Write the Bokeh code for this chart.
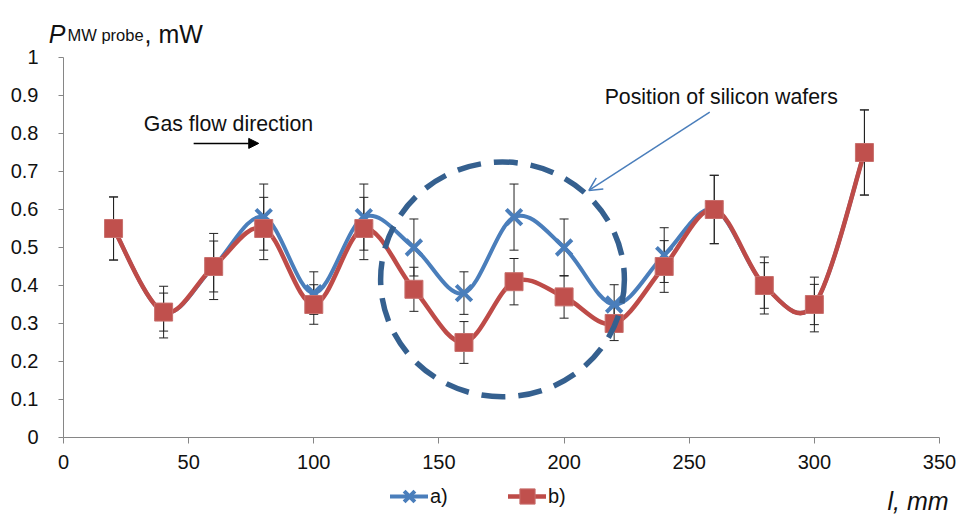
from bokeh.plotting import figure
from bokeh.models import (Range1d, FixedTicker, ColumnDataSource, Whisker, TeeHead, Label,
                          Arrow, NormalHead, OpenHead, Legend, LegendItem, LinearAxis)
from bokeh.embed import file_html
from bokeh.resources import INLINE

# ---------------- data ----------------
l_mm = [20, 40, 60, 80, 100, 120, 140, 160, 180, 200, 220, 240, 260, 280, 300, 320]
p_a = [0.55, 0.33, 0.45, 0.58, 0.38, 0.58, 0.50, 0.38, 0.58, 0.50, 0.35, 0.48, 0.60, 0.40, 0.35, 0.75]
p_b = [0.55, 0.33, 0.45, 0.55, 0.35, 0.55, 0.39, 0.25, 0.41, 0.37, 0.30, 0.45, 0.60, 0.40, 0.35, 0.75]
err_a = [0.083, 0.068, 0.087, 0.087, 0.056, 0.087, 0.075, 0.056, 0.087, 0.075, 0.052, 0.072, 0.090, 0.075, 0.072, 0.112]
err_b = [0.083, 0.050, 0.067, 0.082, 0.052, 0.082, 0.058, 0.055, 0.061, 0.056, 0.045, 0.068, 0.090, 0.060, 0.053, 0.112]
series_labels = ["a)", "b)"]
x_ticks = [0, 50, 100, 150, 200, 250, 300, 350]
y_ticks = [0, 0.1, 0.2, 0.3, 0.4, 0.5, 0.6, 0.7, 0.8, 0.9, 1]
y_tick_labels = ["0", "0.1", "0.2", "0.3", "0.4", "0.5", "0.6", "0.7", "0.8", "0.9", "1"]

# view window (data units) so that axis titles/legend sit inside the drawing area
X_VIEW = (-25.17, 359.98)
Y_VIEW = (-0.2053, 1.15)
WAFER_CX, WAFER_CY, WAFER_W, WAFER_H = 175.4, 0.416, 97.4, 0.618

BLUE = "#4A7EBB"
RED = "#BE4B48"
DARK_BLUE = "#35608F"
AXIS = "#868686"
FONT = "Liberation Sans"
TXT = "#111111"

p = figure(width=964, height=515, output_backend="svg", toolbar_location=None,
           x_range=Range1d(*X_VIEW), y_range=Range1d(*Y_VIEW),
           x_axis_location=None, y_axis_location=None,
           min_border=0, min_border_left=0, min_border_right=0,
           min_border_top=0, min_border_bottom=0)
p.outline_line_color = None
p.grid.visible = False
p.background_fill_color = "white"

xax = LinearAxis(fixed_location=0, bounds=(0, 350), ticker=FixedTicker(ticks=x_ticks))
yax = LinearAxis(fixed_location=0, bounds=(0, 1), ticker=FixedTicker(ticks=y_ticks),
                 major_label_overrides=dict(zip(y_ticks, y_tick_labels)))
for ax in (xax, yax):
    ax.axis_line_color = AXIS
    ax.major_tick_line_color = AXIS
    ax.minor_tick_line_color = None
    ax.major_tick_in = 0
    ax.major_label_text_font = FONT
    ax.major_label_text_font_size = "20px"
    ax.major_label_text_color = TXT
xax.major_tick_out = 6
yax.major_tick_out = 5
xax.major_label_standoff = 12
yax.major_label_standoff = 20
p.add_layout(xax, "below")
p.add_layout(yax, "left")


def bezier_segments(xs, ys):
    n = len(xs)
    out = dict(x0=[], y0=[], x1=[], y1=[], cx0=[], cy0=[], cx1=[], cy1=[])
    for i in range(n - 1):
        i0 = max(i - 1, 0)
        i3 = min(i + 2, n - 1)
        out["x0"].append(xs[i]); out["y0"].append(ys[i])
        out["x1"].append(xs[i + 1]); out["y1"].append(ys[i + 1])
        out["cx0"].append(xs[i] + (xs[i + 1] - xs[i0]) / 6)
        out["cy0"].append(ys[i] + (ys[i + 1] - ys[i0]) / 6)
        out["cx1"].append(xs[i + 1] - (xs[i3] - xs[i]) / 6)
        out["cy1"].append(ys[i + 1] - (ys[i3] - ys[i]) / 6)
    return out

# error bars (under the marks)
for vals, errs in ((p_a, err_a), (p_b, err_b)):
    src = ColumnDataSource(dict(x=l_mm,
                                upper=[v + e for v, e in zip(vals, errs)],
                                lower=[v - e for v, e in zip(vals, errs)]))
    w = Whisker(base="x", upper="upper", lower="lower", source=src,
                line_color="#222222", line_width=1, level="underlay",
                upper_head=TeeHead(size=9, line_color="#222222", line_width=1),
                lower_head=TeeHead(size=9, line_color="#222222", line_width=1))
    p.add_layout(w)

# series a
ca = p.bezier(source=ColumnDataSource(bezier_segments(l_mm, p_a)), x0="x0", y0="y0", x1="x1", y1="y1",
              cx0="cx0", cy0="cy0", cx1="cx1", cy1="cy1", line_color=BLUE, line_width=4, line_cap="round")
sa = p.scatter(l_mm, p_a, marker="x", size=22, line_color=BLUE, line_width=4)
# series b
cb = p.bezier(source=ColumnDataSource(bezier_segments(l_mm, p_b)), x0="x0", y0="y0", x1="x1", y1="y1",
              cx0="cx0", cy0="cy0", cx1="cx1", cy1="cy1", line_color=RED, line_width=4.5, line_cap="round")
sb = p.scatter(l_mm, p_b, marker="square", size=18, fill_color="#C0504D", line_color="#C8706D", line_width=1)

# dashed wafer circle
p.ellipse(x=[WAFER_CX], y=[WAFER_CY], width=[WAFER_W], height=[WAFER_H], fill_color=None,
          line_color=DARK_BLUE, line_width=5.5, line_dash="24 13")

# annotations
p.add_layout(Label(x=216.2, y=0.897, text="Position of silicon wafers", text_font=FONT,
                   text_font_size="21.3px", text_baseline="middle", text_color=TXT))
p.add_layout(Arrow(end=OpenHead(size=13, line_color=BLUE, line_width=1.5),
                   x_start=258.2, y_start=0.856, x_end=209.9, y_end=0.65,
                   line_color=BLUE, line_width=1.5))
p.add_layout(Label(x=32.1, y=0.824, text="Gas flow direction", text_font=FONT,
                   text_font_size="21.3px", text_baseline="middle", text_color=TXT))
p.add_layout(Arrow(end=NormalHead(size=10, fill_color="black", line_color="black"),
                   x_start=52, y_start=0.774, x_end=78, y_end=0.774,
                   line_color="black", line_width=1.5))

# axis titles
p.add_layout(Label(x=-5.9, y=1.063, text="P", text_font=FONT, text_font_size="25px",
                   text_font_style="italic", text_baseline="alphabetic", text_color=TXT))
p.add_layout(Label(x=1.6, y=1.058, text="MW probe", text_font=FONT, text_font_size="16.5px",
                   text_baseline="alphabetic", text_color=TXT))
p.add_layout(Label(x=32.4, y=1.063, text=", mW", text_font=FONT, text_font_size="25px",
                   text_baseline="alphabetic", text_color=TXT))
p.add_layout(Label(x=329.2, y=-0.166, text="l, mm", text_font=FONT, text_font_size="25px",
                   text_font_style="italic", text_baseline="alphabetic", text_color=TXT))

# legend
legend = Legend(items=[LegendItem(label=series_labels[0], renderers=[ca, sa]),
                       LegendItem(label=series_labels[1], renderers=[cb, sb])],
                orientation="horizontal", location=(390, 0), padding=0, margin=0,
                spacing=58, glyph_width=38, glyph_height=38, label_standoff=2,
                label_text_font=FONT, label_text_font_size="20px", label_text_color=TXT,
                border_line_color=None, background_fill_alpha=0)
p.add_layout(legend)

open("out.html", "w").write(file_html(p, INLINE))
